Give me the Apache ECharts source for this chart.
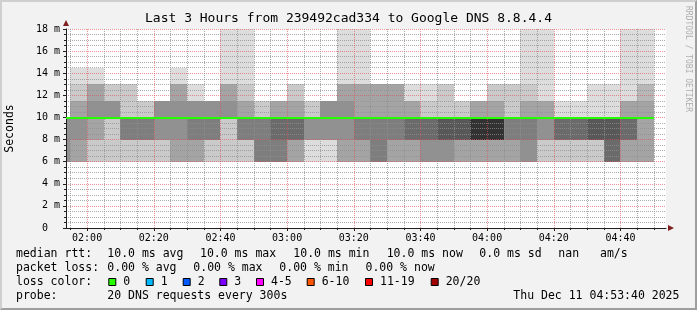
<!DOCTYPE html>
<html>
<head>
<meta charset="utf-8">
<script src="https://cdn.jsdelivr.net/npm/echarts@6/dist/echarts.min.js"></script>
<style>
html,body{margin:0;padding:0;background:#f2f2f2;}
#wrap{position:relative;width:697px;height:310px;overflow:hidden;}
#chart{position:absolute;left:0;top:0;width:697px;height:310px;}
#frame{position:absolute;left:0;top:0;width:697px;height:310px;box-sizing:border-box;
  border-top:2px solid #cfcfcf;border-left:2px solid #cfcfcf;border-right:2px solid #9e9e9e;border-bottom:2px solid #9e9e9e;pointer-events:none;}
</style>
</head>
<body>
<div id="wrap"><div id="chart"></div><div id="frame"></div></div>
<script>
// ---------------- data ----------------
const chartTitle = 'Last 3 Hours from 239492cad334 to Google DNS 8.8.4.4';
const yAxisName = 'Seconds';
const watermark = 'RRDTOOL / TOBI OETIKER';
const windowStart = '01:53:40';
const windowEnd = '04:53:40';
const xTickLabels = ['02:00','02:20','02:40','03:00','03:20','03:40','04:00','04:20','04:40'];
const yMin = 0, yMax = 18, yStep = 2;
const stepMinutes = 5;

// 5-minute probe columns (start time of each)
const columnTimes = ['01:50','01:55','02:00','02:05','02:10','02:15','02:20','02:25','02:30','02:35',
  '02:40','02:45','02:50','02:55','03:00','03:05','03:10','03:15','03:20','03:25',
  '03:30','03:35','03:40','03:45','03:50','03:55','04:00','04:05','04:10','04:15',
  '04:20','04:25','04:30','04:35','04:40','04:45'];
// median rtt per column (ms)
const medianRtt = [10,10,10,10,10,10,10,10,10,10,10,10,10,10,10,10,10,10,
  10,10,10,10,10,10,10,10,10,10,10,10,10,10,10,10,10,10];
// smoke band edges (ms)
const bandEdges = [6, 8, 10, 11.5, 13, 14.5, 18];
// smoke shade (grey level) of each band per column, null = no smoke
const band6to8 = ['91','a4','ca','ca','ca','ca','ca','a4','a4','ca','ca','ca','7e','7e','a4','dd','dd','a4',
  'a4','7e','a4','a4','91','91','a4','a4','a4','a4','91','ca','ca','ca','ca','6b','a4','a4'];
const band8to10 = ['91','91','a4','ca','7e','7e','91','91','7e','7e','ca','7e','7e','6b','6b','91','91','91',
  '7e','7e','7e','6b','6b','58','58','32','32','7e','7e','91','6b','6b','58','58','6b','a4'];
const band10to11 = [null,'a4','91','91','ca','ca','91','91','91','91','91','a4','ca','a4','a4','ca','91','91',
  'a4','a4','a4','a4','ca','ca','ca','a4','a4','ca','a4','a4','dd','dd','dd','dd','a4','a4'];
const band11to13 = [null,'ca','a4','ca','ca',null,null,'a4','dd',null,'a4','ca',null,null,'ca',null,null,'a4',
  'a4','a4','a4','dd','dd','ca',null,null,'ca','ca','ca','dd',null,null,'dd','dd','dd','b7'];
const band13to14 = [null,'dd','dd',null,null,null,null,'dd',null,null,'dd','dd',null,null,null,null,null,'dd',
  'dd',null,null,null,null,null,null,null,null,null,'dd','dd',null,null,null,null,'dd','dd'];
const band14to18 = [null,null,null,null,null,null,null,null,null,null,'dd','dd',null,null,null,null,null,'dd',
  'dd',null,null,null,null,null,null,null,null,null,'dd','dd',null,null,null,null,'dd','dd'];

// legend / statistics
const rttStats = [['10.0 ms avg',107.3],['10.0 ms max',200],['10.0 ms min',293.3],['10.0 ms now',386.7],['0.0 ms sd',479.3],['nan',558.3],['am/s',600]];
const lossStats = [['0.00 % avg',107.3],['0.00 % max',193.3],['0.00 % min',279.3],['0.00 % now',365.5]];
const lossLabels = ['0','1','2','3','4-5','6-10','11-19','20/20'];
const lossColors = ['#26ff00','#00b8ff','#0059ff','#7e00ff','#ff00ff','#ff5500','#ff0000','#a00000'];
const lossBoxX = [108.3,145.7,182.7,219.3,256,306.7,365,430.7];
const probeText = '20 DNS requests every 300s';
const stampText = 'Thu Dec 11 04:53:40 2025';

// ---------------- build ----------------
function toMin(s){ const p = s.split(':').map(Number); return p[0]*60 + p[1] + (p[2]||0)/60; }
const xMin = toMin(windowStart), xMax = toMin(windowEnd);
const tickVals = xTickLabels.map(toMin);
const bands = [band6to8, band8to10, band10to11, band11to13, band13to14, band14to18];

const smokeData = [];
columnTimes.forEach((t, i) => {
  const s = toMin(t);
  bands.forEach((arr, j) => {
    if (arr[i]) smokeData.push([s, s + stepMinutes, bandEdges[j], bandEdges[j+1], '#' + arr[i] + arr[i] + arr[i]]);
  });
});
const medianData = columnTimes.map((t, i) => [toMin(t), toMin(t) + stepMinutes, medianRtt[i]]);
const gridData = [];
for (let m = Math.ceil(xMin / stepMinutes) * stepMinutes; m < xMax; m += stepMinutes) gridData.push([m, m, yMin, yMax]);

const MONO = '"DejaVu Sans Mono", monospace';
const GRID_MINOR = 'rgba(143,143,143,0.75)';
const GRID_MAJOR = 'rgba(222,79,79,0.6)';
const AXIS = '#1f1f1f';
const ARROW = '#801f1f';

const graphics = [];
function txt(x, y, text, size, align){
  graphics.push({type:'text', x:x, y:y, silent:true,
    style:{text:text, font: size + 'px ' + MONO, fill:'#000', textAlign:align||'left', textVerticalAlign:'middle'}});
}
txt(348.5, 19, chartTitle, 13, 'center');
graphics.push({type:'text', x:10.5, y:128.5, rotation:Math.PI/2, silent:true,
  style:{text:yAxisName, font:'11.5px '+MONO, fill:'#000', textAlign:'center', textVerticalAlign:'middle'}});
graphics.push({type:'text', x:688, y:59, rotation:-Math.PI/2, silent:true,
  style:{text:watermark, font:'8px '+MONO, fill:'rgba(0,0,0,0.3)', textAlign:'center', textVerticalAlign:'middle'}});
const LF = 11.5;
txt(16, 254.5, 'median rtt:', LF);
rttStats.forEach(s => txt(s[1], 254.5, s[0], LF));
txt(16, 268.5, 'packet loss:', LF);
lossStats.forEach(s => txt(s[1], 268.5, s[0], LF));
txt(16, 282.5, 'loss color:', LF);
lossLabels.forEach((l, i) => {
  graphics.push({type:'rect', silent:true, shape:{x:lossBoxX[i]+0.5, y:278.5, width:7, height:7},
    style:{fill:lossColors[i], stroke:'#000', lineWidth:1}});
  txt(lossBoxX[i] + 15, 282.5, l, LF);
});
txt(16, 296.5, 'probe:', LF);
txt(107.3, 296.5, probeText, LF);
txt(513.3, 296.5, stampText, LF);

const chart = echarts.init(document.getElementById('chart'), null, {renderer:'canvas'});
chart.setOption({
  animation:false,
  backgroundColor:'#f2f2f2',
  grid:{left:66, top:29, width:600, height:199, show:true, backgroundColor:'#ffffff', borderWidth:0},
  xAxis:[{
    type:'value', min:xMin, max:xMax, z:3,
    axisLine:{show:true, onZero:false, lineStyle:{color:AXIS, width:1}},
    axisTick:{show:false},
    axisLabel:{show:true, customValues:tickVals, margin:5, color:'#000', fontFamily:MONO, fontSize:10,
      formatter:(v) => { let k = 0; tickVals.forEach((t,i)=>{ if (Math.abs(t-v) < Math.abs(tickVals[k]-v)) k = i; }); return xTickLabels[k]; }},
    splitLine:{show:false}
  },{
    type:'value', min:xMin, max:xMax, position:'bottom', z:4,
    axisLine:{show:true, onZero:false, symbol:['none','triangle'], symbolSize:[6,6], symbolOffset:[0,5], lineStyle:{color:ARROW, width:0}},
    axisTick:{show:false}, axisLabel:{show:false}, splitLine:{show:false}
  }],
  yAxis:[{
    type:'value', min:yMin, max:yMax, interval:yStep, z:3,
    axisLine:{show:true, lineStyle:{color:AXIS, width:1}},
    axisTick:{show:true, length:3, lineStyle:{color:AXIS}},
    minorTick:{show:true, splitNumber:4, length:2, lineStyle:{color:AXIS}},
    splitLine:{show:true, lineStyle:{color:GRID_MAJOR, type:[1,1], width:1}},
    minorSplitLine:{show:true, lineStyle:{color:GRID_MINOR, type:[1,1], width:1}},
    axisLabel:{margin:6, color:'#000', fontFamily:MONO, fontSize:10,
      formatter:(v) => v === 0 ? '0\u00a0\u00a0' : v + ' m'}
  },{
    type:'value', min:yMin, max:yMax, position:'left', z:4,
    axisLine:{show:true, symbol:['none','triangle'], symbolSize:[6,6], symbolOffset:[0,6], lineStyle:{color:ARROW, width:0}},
    axisTick:{show:false}, axisLabel:{show:false}, splitLine:{show:false}
  }],
  series:[{
    type:'custom', name:'smoke', z:1, clip:true, silent:true,
    xAxisIndex:0, yAxisIndex:0,
    encode:{x:[0,1], y:[2,3]},
    data:smokeData,
    renderItem:(params, api) => {
      const a = api.coord([api.value(0), api.value(3)]);
      const b = api.coord([api.value(1), api.value(2)]);
      const x = Math.round(a[0]), y = Math.round(a[1]);
      return {type:'rect', shape:{x:x, y:y, width:Math.round(b[0]) - x, height:Math.round(b[1]) - y},
        style:{fill:smokeData[params.dataIndex][4]}};
    }
  },{
    type:'custom', name:'vgrid', z:3, clip:false, silent:true,
    xAxisIndex:0, yAxisIndex:0,
    encode:{x:[0,1], y:[2,3]},
    data:gridData,
    renderItem:(params, api) => {
      const m = api.value(0);
      const a = api.coord([m, api.value(3)]);
      const b = api.coord([m, api.value(2)]);
      const x = Math.round(a[0]) + 0.5;
      const major = Math.abs(m % 20) < 1e-6;
      return {type:'group', children:[
        {type:'line', shape:{x1:x, y1:Math.round(a[1]), x2:x, y2:Math.round(b[1])},
          style:{stroke: major ? GRID_MAJOR : GRID_MINOR, lineWidth:1, lineDash:[1,1]}},
        {type:'line', shape:{x1:x, y1:Math.round(b[1]), x2:x, y2:Math.round(b[1]) + (major ? 3 : 2)},
          style:{stroke:AXIS, lineWidth:1}}
      ]};
    }
  },{
    type:'custom', name:'median', z:5, clip:true, silent:true,
    xAxisIndex:0, yAxisIndex:0,
    encode:{x:[0,1], y:2},
    data:medianData,
    renderItem:(params, api) => {
      const a = api.coord([api.value(0), api.value(2)]);
      const b = api.coord([api.value(1), api.value(2)]);
      const y = Math.ceil(a[1]);
      return {type:'line', shape:{x1:Math.round(a[0]), y1:y, x2:Math.round(b[0]), y2:y},
        style:{stroke:lossColors[0], lineWidth:2}};
    }
  }],
  graphic:graphics
});
</script>
</body>
</html>
